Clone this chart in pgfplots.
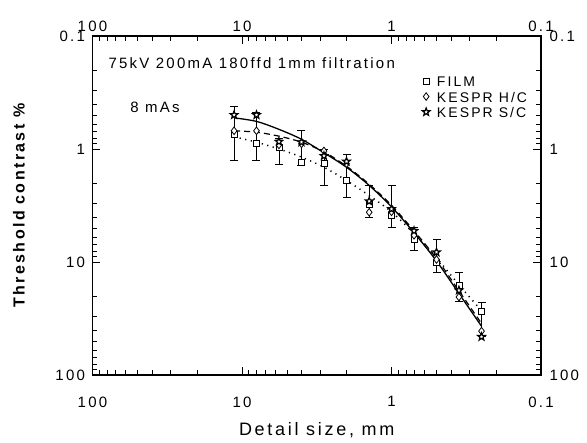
\documentclass[border=0pt]{standalone}
\usepackage{fontspec}
\setmainfont{Liberation Sans}[LetterSpace=15]
\usepackage{pgfplots}
\usepackage{pgfplotstable}
\pgfplotsset{compat=1.18}
\usetikzlibrary{plotmarks}

\pgfdeclareplotmark{fivestar}{%
  \pgfpathmoveto{\pgfqpointpolar{90}{\pgfplotmarksize}}%
  \pgfpathlineto{\pgfqpointpolar{126}{0.42\pgfplotmarksize}}%
  \pgfpathlineto{\pgfqpointpolar{162}{\pgfplotmarksize}}%
  \pgfpathlineto{\pgfqpointpolar{198}{0.42\pgfplotmarksize}}%
  \pgfpathlineto{\pgfqpointpolar{234}{\pgfplotmarksize}}%
  \pgfpathlineto{\pgfqpointpolar{270}{0.42\pgfplotmarksize}}%
  \pgfpathlineto{\pgfqpointpolar{306}{\pgfplotmarksize}}%
  \pgfpathlineto{\pgfqpointpolar{342}{0.42\pgfplotmarksize}}%
  \pgfpathlineto{\pgfqpointpolar{18}{\pgfplotmarksize}}%
  \pgfpathlineto{\pgfqpointpolar{54}{0.42\pgfplotmarksize}}%
  \pgfpathclose
  \pgfusepathqfillstroke
}

% markers: detail size (mm), FILM, KESPR H/C, KESPR S/C
\pgfplotstableread{
x f h s
11.3 0.75 0.69 0.50
8 0.89 0.69 0.50
5.66 0.97 0.92 0.86
4 1.31 0.90 0.87
2.83 1.33 1.04 1.15
2 1.91 1.35 1.29
1.41 3.1 3.63 2.9
1 3.9 3.6 3.4
0.707 6.3 5.8 5.3
0.5 10.0 9.5 8.2
0.354 16.1 20.4 17.8
0.25 27.6 40.9 45.9
}\markers

% fitted curves
\pgfplotstableread{
x s h f
11.3 0.53 0.69 0.78
8 0.57 0.71 0.87
5.66 0.67 0.77 1.0
4 0.82 0.87 1.18
2.83 1.08 1.06 1.45
2 1.45 1.42 1.9
1.41 2.1 2.05 2.58
1 3.25 3.15 3.6
0.707 5.5 5.3 5.6
0.5 9.8 9.3 9.2
0.354 19 18 15.9
0.25 37 35 27
}\fits

\begin{document}
\begin{tikzpicture}
\path[use as bounding box] (-92.5pt,-68pt) rectangle (494.5pt,375pt);
% upper / right labels
\begin{axis}[
    scale only axis, width=448.5pt, height=339pt,
    at={(0pt,0pt)}, anchor=south west,
    xmode=log, ymode=log, x dir=reverse, y dir=reverse,
    xmin=0.1, xmax=100, ymin=0.1, ymax=100,
    xtick={0.1,1,10,100}, xticklabels={0.1,1,10,100},
    ytick={0.1,1,10,100}, yticklabels={0.1,1,10,100},
    minor xtick={0.2,0.3,0.4,0.5,0.6,0.7,0.8,0.9,2,3,4,5,6,7,8,9,20,30,40,50,60,70,80,90},
    minor ytick={0.2,0.3,0.4,0.5,0.6,0.7,0.8,0.9,2,3,4,5,6,7,8,9,20,30,40,50,60,70,80,90},
    major tick length=8pt, minor tick length=5pt,
    tick align=inside,
    tick style={black, line width=0.8pt},
    axis line style={line width=1.2pt},
    tick label style={font=\fontsize{15}{17}\selectfont},
    xticklabel pos=upper, yticklabel pos=right,
    xticklabel style={yshift=1pt}, yticklabel style={xshift=5pt}]
\addplot[draw=none, forget plot] coordinates {(1,1)};
\end{axis}
\begin{axis}[
    scale only axis, width=448.5pt, height=339pt,
    at={(0pt,0pt)}, anchor=south west,
    xmode=log, ymode=log, x dir=reverse, y dir=reverse,
    xmin=0.1, xmax=100, ymin=0.1, ymax=100,
    xtick={0.1,1,10,100}, xticklabels={0.1,1,10,100},
    ytick={0.1,1,10,100}, yticklabels={0.1,1,10,100},
    minor xtick={0.2,0.3,0.4,0.5,0.6,0.7,0.8,0.9,2,3,4,5,6,7,8,9,20,30,40,50,60,70,80,90},
    minor ytick={0.2,0.3,0.4,0.5,0.6,0.7,0.8,0.9,2,3,4,5,6,7,8,9,20,30,40,50,60,70,80,90},
    major tick length=8pt, minor tick length=5pt,
    tick align=inside,
    tick style={black, line width=0.8pt},
    axis line style={line width=1.2pt},
    tick label style={font=\fontsize{15}{17}\selectfont},
    xticklabel pos=lower, yticklabel pos=left,
    xticklabel style={yshift=-18pt}, yticklabel style={xshift=-4pt},
    xlabel={Detail size, mm},
    xlabel style={font=\fontsize{18}{20}\selectfont, at={(axis description cs:0.5,-0.162)}, anchor=center},
    ylabel={Threshold contrast \%},
    ylabel style={font=\bfseries\fontsize{16}{18}\selectfont, at={(axis description cs:-0.164,0.5)}, anchor=center},
    legend style={draw=none, fill=none, at={(axis description cs:0.735,0.884)}, anchor=north west,
      font=\fontsize{14}{16}\selectfont, row sep=4.5pt, column sep=7pt, inner sep=0pt,
      nodes={inner sep=0pt, text height=11pt, text depth=0pt}},
    legend cell align=left,
]
% fitted curves
\addplot[black, line width=1.3pt, smooth, no marks, forget plot] table[x=x, y=s] {\fits};
\addplot[black, line width=1.2pt, smooth, no marks, dash pattern=on 6pt off 4pt, forget plot] table[x=x, y=h] {\fits};
\addplot[black, line width=1.5pt, smooth, no marks, dash pattern=on 1.2pt off 4.5pt, forget plot] table[x=x, y=f] {\fits};
% error bars
\addplot[black, line width=0.8pt, mark=-, mark size=4pt, unbounded coords=jump, forget plot] coordinates {
(11.3,0.42) (11.3,1.25) (nan,nan)
(8,0.47) (8,1.25) (nan,nan)
(5.66,0.80) (5.66,1.36) (nan,nan)
(4,0.69) (4,1.40) (nan,nan)
(2.83,1.0) (2.83,2.08) (nan,nan)
(2,1.12) (2,2.67) (nan,nan)
(1.41,2.11) (1.41,4.02) (nan,nan)
(1,2.11) (1,4.92) (nan,nan)
(0.707,4.9) (0.707,7.9) (nan,nan)
(0.5,6.35) (0.5,12.3) (nan,nan)
(0.354,12.4) (0.354,22.5) (nan,nan)
(0.25,22.8) (0.25,46) (nan,nan)
};
% markers
\addplot[only marks, mark=square*, mark size=3pt, mark options={fill=white, draw=black, line width=0.8pt}] table[x=x, y=f] {\markers};
\addlegendentry{FILM}
\addplot[only marks, mark=diamond*, mark size=3.8pt, mark options={fill=white, draw=black, line width=0.8pt}] table[x=x, y=h] {\markers};
\addlegendentry{KESPR H/C}
\addplot[only marks, mark=fivestar, mark size=4pt, mark options={fill=white, draw=black, line width=1.2pt}] table[x=x, y=s] {\markers};
\addlegendentry{KESPR S/C}
\node[anchor=west, font=\fontsize{15}{17}\selectfont] at (axis cs:82.5,0.175) {75kV 200mA 180ffd 1mm filtration};
\node[anchor=west, font=\fontsize{15}{17}\selectfont] at (axis cs:59,0.431) {8 mAs};
\end{axis}
\end{tikzpicture}
\end{document}
